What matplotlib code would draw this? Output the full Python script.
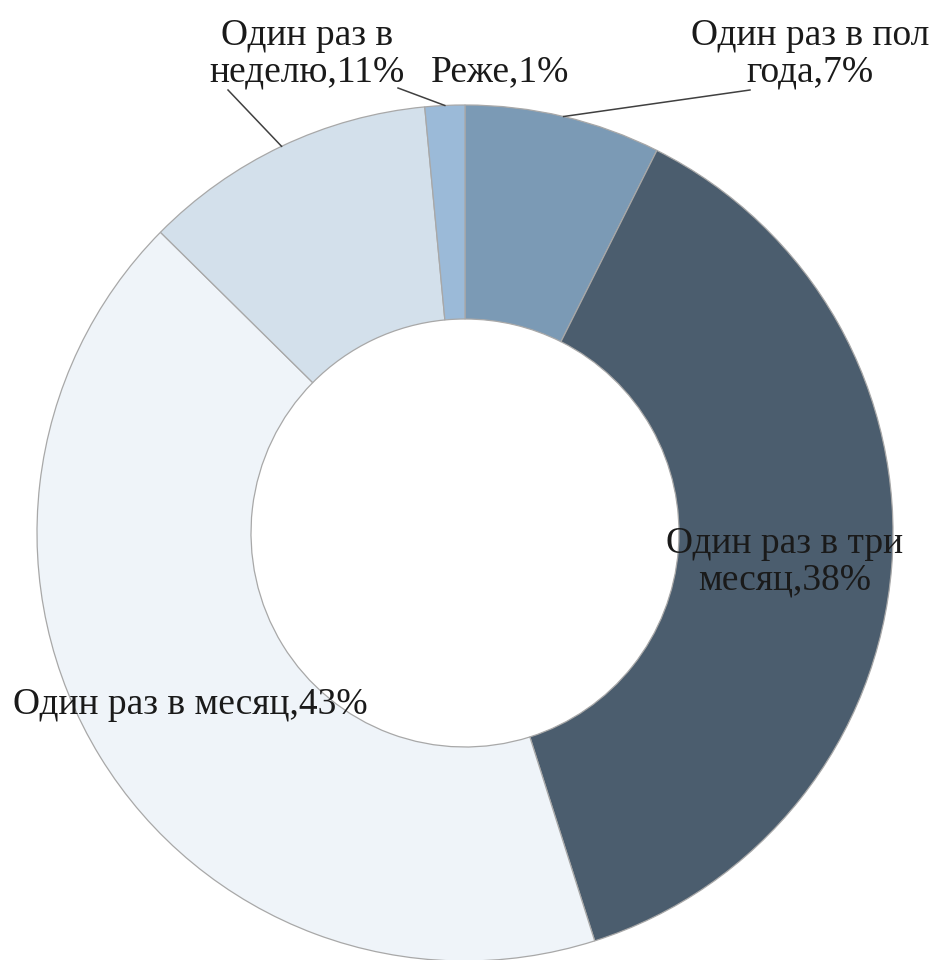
import matplotlib
matplotlib.use('Agg')
import numpy as np
import matplotlib.pyplot as plt

# slices clockwise from 12 o'clock; sizes measured off the ring, labels as printed
labels = ['Один раз в пол\nгода,7%', 'Один раз в три\nмесяц,38%', 'Один раз в месяц,43%',
          'Один раз в\nнеделю,11%', 'Реже,1%']
values = [7.4, 37.7, 42.3, 11.1, 1.5]
colors = ['#7b9ab5', '#4b5d6e', '#eff4f9', '#d3e0eb', '#9bbad8']

plt.rcParams['font.family'] = ['Liberation Serif', 'DejaVu Serif']

fig = plt.figure(figsize=(9.35, 9.6), dpi=100)
ax = fig.add_axes([0, 0, 1, 1])

cx, cy, R = 465, 427, 428
wedges, _ = ax.pie(values, colors=colors, startangle=90, counterclock=False,
                   center=(cx, cy), radius=R, frame=True,
                   wedgeprops=dict(width=R * 0.5, edgecolor='#a8a8a8', linewidth=0.9))
ax.set_xlim(0, 935)
ax.set_ylim(0, 960)
ax.axis('off')

# label placement: (text x, text y, leader end x, leader end y or None)
txt_pos = [(810, 906, 750, 870), (785, 398, None, None), (190, 255, None, None),
           (307, 906, 228, 870), (500, 888, 398, 872)]

for w, lab, (tx, ty, lx, ly) in zip(wedges, labels, txt_pos):
    ax.text(tx, ty, lab, ha='center', va='center', fontsize=27, color='#1a1a1a',
            linespacing=1.1, zorder=5)
    if lx is not None:
        mid = np.deg2rad((w.theta1 + w.theta2) / 2)
        ax.plot([lx, cx + R * np.cos(mid)], [ly, cy + R * np.sin(mid)],
                color='#404040', lw=1.1, zorder=4)

fig.savefig('out.png', dpi=100, facecolor='white')
